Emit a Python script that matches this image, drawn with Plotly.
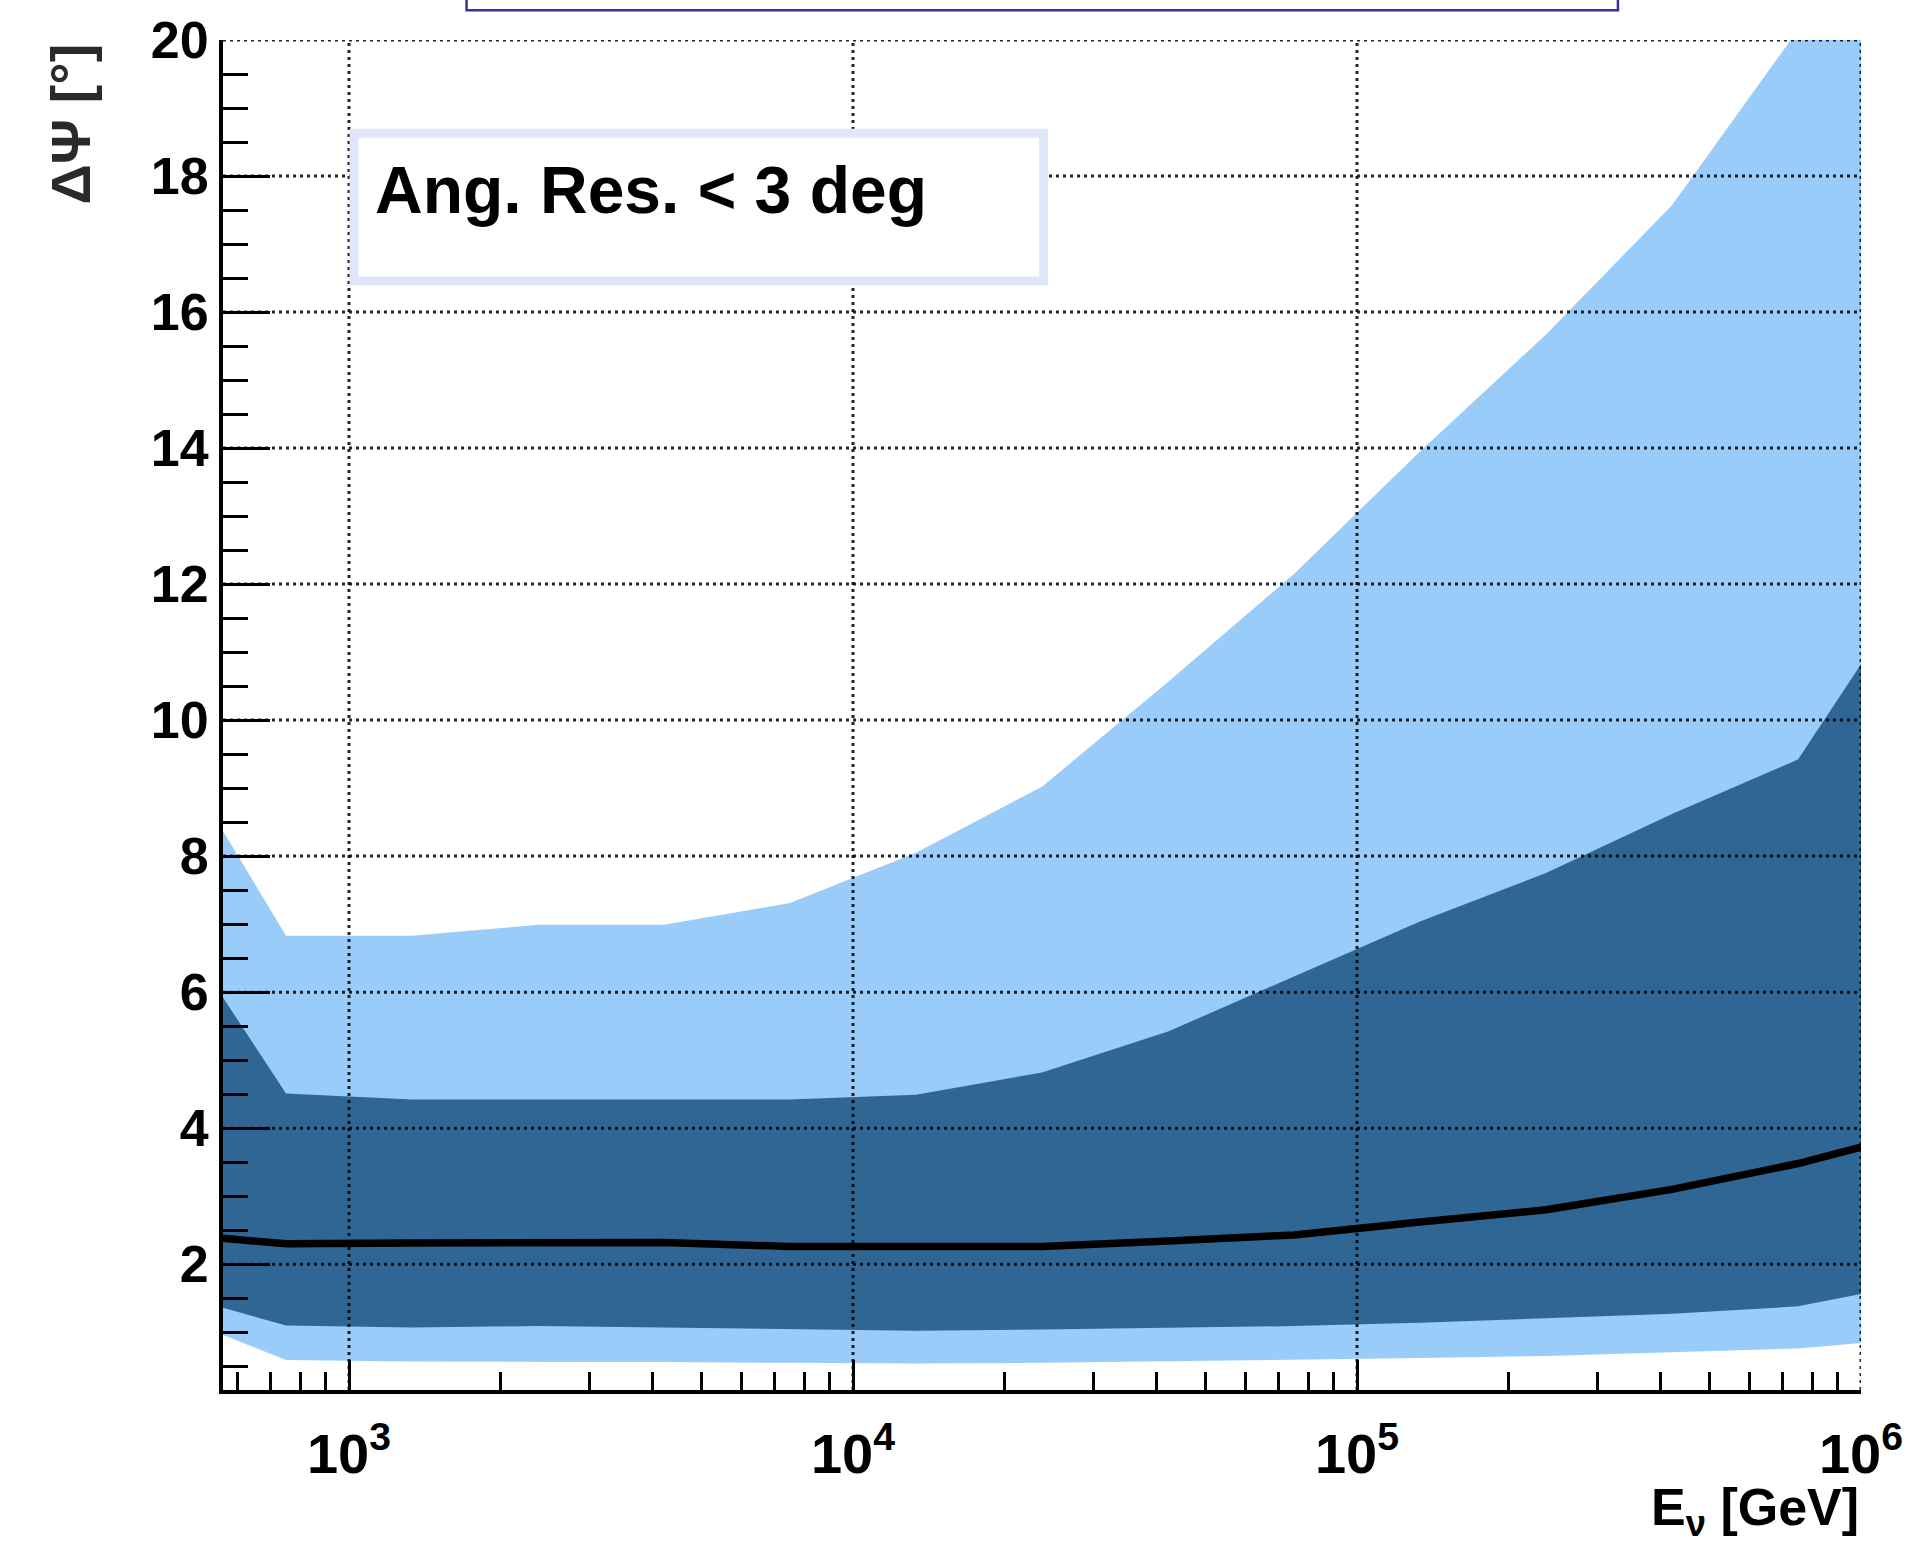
import plotly.graph_objects as go

# Neutrino energy sampling points, log10(E/GeV): plot edges plus bin centres
log_energy = [2.75, 2.875, 3.125, 3.375, 3.625, 3.875, 4.125, 4.375,
              4.625, 4.875, 5.125, 5.375, 5.625, 5.875, 6.0]

# Angular error quantile bands [deg]
outer_upper = [8.37, 6.83, 6.83, 6.99, 6.99, 7.31, 8.05, 9.02,
               10.56, 12.15, 13.95, 15.67, 17.57, 20.15, 21.3]
inner_upper = [5.92, 4.51, 4.42, 4.42, 4.42, 4.42, 4.49, 4.82,
               5.42, 6.23, 7.04, 7.75, 8.62, 9.42, 10.82]
median = [2.38, 2.30, 2.31, 2.32, 2.32, 2.26, 2.25, 2.26,
          2.34, 2.43, 2.62, 2.80, 3.10, 3.48, 3.72]
inner_lower = [1.36, 1.10, 1.07, 1.09, 1.07, 1.04, 1.02, 1.04,
               1.06, 1.09, 1.14, 1.20, 1.27, 1.38, 1.56]
outer_lower = [0.96, 0.59, 0.57, 0.57, 0.56, 0.55, 0.54, 0.55,
               0.57, 0.60, 0.62, 0.65, 0.70, 0.76, 0.84]

x_major = [1e3, 1e4, 1e5, 1e6]
x_major_text = ["10<sup>3</sup>", "10<sup>4</sup>", "10<sup>5</sup>", "10<sup>6</sup>"]
y_major = [2, 4, 6, 8, 10, 12, 14, 16, 18, 20]

X_RANGE_LOG = [2.75, 6.0]
Y_RANGE = [0.15, 20]

energy = [10 ** v for v in log_energy]
x_minor = [m * 10 ** d for d in range(2, 6) for m in range(2, 10)]

LIGHT = "#99CCF8"
DARK = "#306694"
BOLD = dict(family="Liberation Sans, Arial, sans-serif", weight="bold", color="black")

fig = go.Figure()
fig.add_trace(go.Scatter(x=energy, y=outer_lower, mode="lines",
                         line=dict(width=0, color=LIGHT), showlegend=False))
fig.add_trace(go.Scatter(x=energy, y=outer_upper, mode="lines", fill="tonexty",
                         fillcolor=LIGHT, line=dict(width=0, color=LIGHT),
                         showlegend=False))
fig.add_trace(go.Scatter(x=energy, y=inner_lower, mode="lines",
                         line=dict(width=0, color=DARK), showlegend=False))
fig.add_trace(go.Scatter(x=energy, y=inner_upper, mode="lines", fill="tonexty",
                         fillcolor=DARK, line=dict(width=0, color=DARK),
                         showlegend=False))

# Dotted grid drawn over the bands (the axis grid would sit underneath them)
x_lo, x_hi = 10 ** X_RANGE_LOG[0], 10 ** X_RANGE_LOG[1]
gx, gy = [], []
for xv in x_major:
    gx += [xv, xv, None]
    gy += [Y_RANGE[0], Y_RANGE[1], None]
for yv in y_major:
    gx += [x_lo, x_hi, None]
    gy += [yv, yv, None]
fig.add_trace(go.Scatter(x=gx, y=gy, mode="lines", cliponaxis=False,
                         line=dict(width=3, color="rgba(0,0,0,0.85)", dash="3px,4px"),
                         hoverinfo="skip", showlegend=False))

fig.add_trace(go.Scatter(x=energy, y=median, mode="lines",
                         line=dict(width=7.5, color="black"), showlegend=False))

fig.update_xaxes(
    type="log", range=X_RANGE_LOG,
    tickmode="array", tickvals=x_major, ticktext=x_major_text,
    ticks="inside", ticklen=30, tickwidth=3, tickcolor="black",
    ticklabelstandoff=12,
    tickfont=dict(BOLD, size=56),
    showline=True, linecolor="black", linewidth=4, mirror=False,
    showgrid=False,
    minor=dict(tickmode="array", tickvals=x_minor, ticks="inside", ticklen=18,
               tickwidth=3, tickcolor="black", showgrid=False),
    zeroline=False, layer="above traces",
)
fig.update_yaxes(
    range=Y_RANGE,
    tickmode="array", tickvals=y_major, ticktext=[str(v) for v in y_major],
    ticks="inside", ticklen=47, tickwidth=3, tickcolor="black",
    ticklabelstandoff=0,
    tickfont=dict(BOLD, size=52),
    showline=True, linecolor="black", linewidth=4, mirror=False,
    showgrid=False,
    minor=dict(dtick=0.5, ticks="inside", ticklen=25, tickwidth=3,
               tickcolor="black", showgrid=False),
    zeroline=False, layer="above traces",
)

# Text box with its pale border
fig.add_shape(type="rect", xref="paper", yref="paper",
              x0=0.080, x1=0.501, y0=0.8214, y1=0.931,
              line=dict(color="#E0E6F8", width=9), fillcolor="white", layer="above")
fig.add_annotation(xref="paper", yref="paper", x=0.0915, y=0.889,
                   xanchor="left", yanchor="middle", showarrow=False,
                   text="Ang. Res. < 3 deg", font=dict(BOLD, size=66))

# Frame of the caption box cut off at the top of the page
fig.add_shape(type="rect", xref="paper", yref="paper",
              x0=0.1487, x1=0.8516, y0=1.022, y1=1.2,
              line=dict(color="#33339A", width=2.5), fillcolor="rgba(0,0,0,0)",
              layer="above")

# Axis titles
fig.add_annotation(xref="paper", yref="paper", x=-0.093, y=0.999,
                   xanchor="center", yanchor="top", showarrow=False,
                   textangle=-90, text="ΔΨ [°]",
                   font=dict(family="Liberation Sans, Arial", weight="bold",
                             size=56, color="#2a2a2a"))
fig.add_annotation(xref="paper", yref="paper", x=1.0, y=-0.0895,
                   xanchor="right", yanchor="middle", showarrow=False,
                   text="E<sub>ν</sub> [GeV]",
                   font=dict(BOLD, size=52))

fig.update_layout(
    width=1926, height=1544,
    margin=dict(l=223, r=65, t=40, b=154),
    paper_bgcolor="white", plot_bgcolor="white",
    showlegend=False,
)

fig.write_html("out.html")
